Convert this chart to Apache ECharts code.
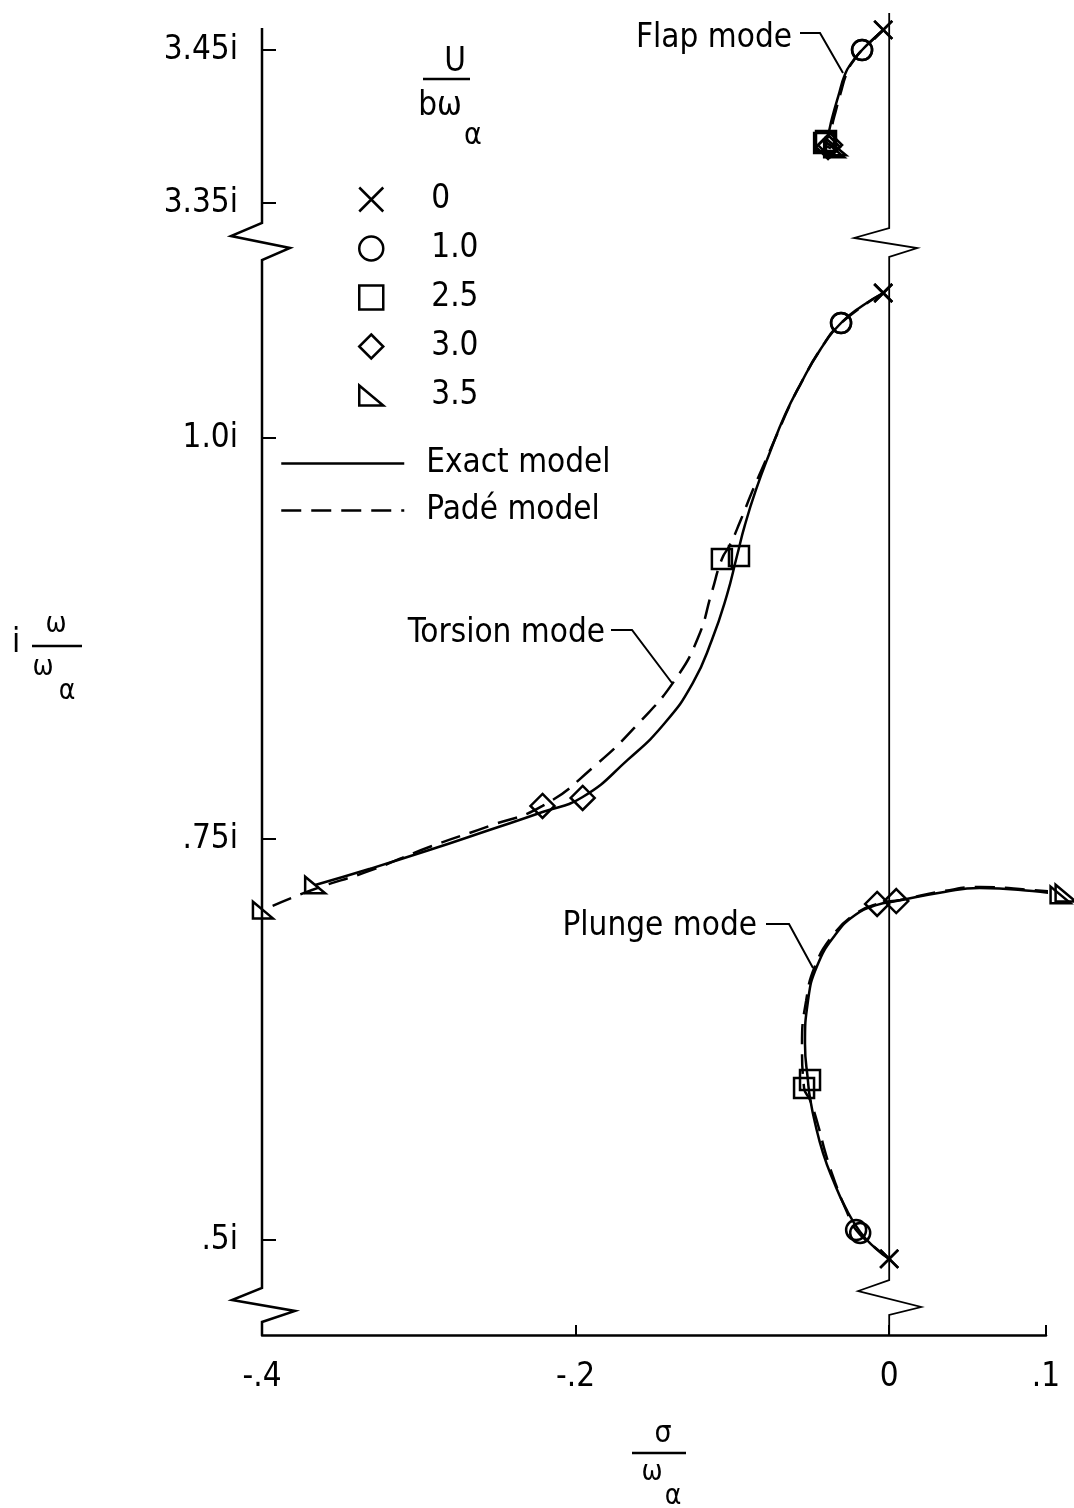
<!DOCTYPE html>
<html><head><meta charset="utf-8">
<script src="https://cdn.jsdelivr.net/npm/echarts@6/dist/echarts.min.js"></script>
<style>html,body{margin:0;padding:0;background:#fff}#c{width:1074px;height:1508px}</style>
</head><body><div id="c"></div><script>
const FONT = '"DejaVu Sans Condensed","Liberation Sans Narrow","Liberation Sans",sans-serif';

// ---- axis ticks ----
const xTickValues = [-0.4, -0.2, 0, 0.1];
const xTickLabels = ['-.4', '-.2', '0', '.1'];
const yTickValuesUpper = [3.35, 3.45];
const yTickLabelsUpper = ['3.35i', '3.45i'];
const yTickValuesLower = [0.5, 0.75, 1.0];
const yTickLabelsLower = ['.5i', '.75i', '1.0i'];
const speedLabels = ['0', '1.0', '2.5', '3.0', '3.5'];

// ---- flap mode (upper panel) ----
const flapExact = [[-0.0038,3.4631],[-0.0109,3.4565],[-0.0173,3.4500],[-0.0236,3.4422],[-0.0281,3.4343],[-0.0326,3.4193],[-0.0364,3.4056],[-0.0390,3.3944],[-0.0403,3.3905],[-0.0377,3.3879],[-0.0339,3.3866]];
const flapPade = [[-0.0038,3.4631],[-0.0173,3.4500],[-0.0224,3.4435],[-0.0268,3.4356],[-0.0313,3.4206],[-0.0351,3.4062],[-0.0383,3.3944],[-0.0415,3.3892],[-0.0390,3.3866],[-0.0351,3.3853]];
const flapExactMarks = [[-0.0038,3.4631],[-0.0173,3.4500],[-0.0403,3.3905],[-0.0377,3.3879],[-0.0339,3.3866]];
const flapPadeMarks = [[-0.0038,3.4631],[-0.0173,3.4500],[-0.0415,3.3892],[-0.0390,3.3866],[-0.0351,3.3853]];

// ---- torsion mode ----
const torsionExact = [[-0.0038,1.0904],[-0.0173,1.0823],[-0.0307,1.0717],[-0.0441,1.0549],[-0.0569,1.0330],[-0.0665,1.0143],[-0.0760,0.9913],[-0.0850,0.9676],[-0.0920,0.9458],[-0.0971,0.9264],[-0.1035,0.9021],[-0.1131,0.8741],[-0.1252,0.8473],[-0.1431,0.8223],[-0.1668,0.7993],[-0.1955,0.7762],[-0.2211,0.7668],[-0.2550,0.7556],[-0.2933,0.7431],[-0.3316,0.7313],[-0.3661,0.7213]];
const torsionPade = [[-0.0038,1.0904],[-0.0307,1.0717],[-0.0441,1.0549],[-0.0569,1.0330],[-0.0633,1.0206],[-0.0709,1.0037],[-0.0792,0.9850],[-0.0875,0.9663],[-0.0952,0.9476],[-0.1016,0.9333],[-0.1067,0.9246],[-0.1131,0.9040],[-0.1220,0.8753],[-0.1367,0.8491],[-0.1591,0.8229],[-0.1879,0.7955],[-0.2211,0.7706],[-0.2550,0.7581],[-0.2933,0.7450],[-0.3316,0.7301],[-0.3681,0.7182],[-0.3994,0.7057]];
const torsionExactMarks = [[-0.0038,1.0904],[-0.0307,1.0717],[-0.0958,0.9264],[-0.1955,0.7756],[-0.3661,0.7213]];
const torsionPadeMarks = [[-0.0038,1.0904],[-0.0307,1.0717],[-0.1067,0.9246],[-0.2211,0.7706],[-0.3994,0.7057]];

// ---- plunge mode ----
const plungeExact = [[0.0000,0.4882],[-0.0089,0.4950],[-0.0185,0.5050],[-0.0281,0.5206],[-0.0358,0.5374],[-0.0422,0.5542],[-0.0473,0.5729],[-0.0505,0.5885],[-0.0518,0.5991],[-0.0537,0.6222],[-0.0518,0.6490],[-0.0460,0.6708],[-0.0345,0.6901],[-0.0217,0.7026],[-0.0077,0.7089],[0.0045,0.7113],[0.0351,0.7170],[0.0575,0.7195],[0.0914,0.7176],[0.1093,0.7151]];
const plungePade = [[0.0000,0.4882],[-0.0102,0.4963],[-0.0211,0.5062],[-0.0275,0.5187],[-0.0339,0.5343],[-0.0403,0.5530],[-0.0454,0.5717],[-0.0505,0.5873],[-0.0543,0.5948],[-0.0556,0.6222],[-0.0530,0.6490],[-0.0473,0.6708],[-0.0358,0.6901],[-0.0217,0.7032],[-0.0077,0.7095],[0.0070,0.7120],[0.0351,0.7176],[0.0581,0.7201],[0.0914,0.7182],[0.1125,0.7163]];
const plungeExactMarks = [[0.0000,0.4882],[-0.0185,0.5044],[-0.0505,0.5997],[0.0045,0.7113],[0.1093,0.7151]];
const plungePadeMarks = [[0.0000,0.4882],[-0.0211,0.5062],[-0.0543,0.5948],[-0.0077,0.7095],[0.1125,0.7163]];

// ---- styling ----
const SYMBOLS = ['path://M0,0L10,10M10,0L0,10', 'circle', 'path://M0,0L10,0L10,10L0,10Z', 'path://M5,0L10,5L5,10L0,5Z', 'path://M0,0L0,10L12,10Z'];
const SIZES = [18, 20, 20, 24, 20];
const UPPER_MIN = 3.33562, UPPER_MAX = 3.46438;
const LOWER_MIN = 0.44077, LOWER_MAX = 1.11097;

function labelFor(values, labels) {
  return v => { for (let i = 0; i < values.length; i++) if (Math.abs(values[i] - v) < 1e-6) return labels[i]; return ''; };
}
const lblStyle = { fontFamily: FONT, fontSize: 33, color: '#000' };

function lineSeries(name, data, gi, dashed) {
  return {
    name, type: 'line', data, xAxisIndex: gi, yAxisIndex: gi, smooth: 0.5,
    symbol: 'none', showSymbol: false, clip: false, silent: true,
    lineStyle: { color: '#000', width: 2.5, type: dashed ? [20, 10] : 'solid', opacity: 1 },
    itemStyle: { color: '#000' }, z: 2
  };
}
function markSeries(i, data, gi) {
  return {
    name: speedLabels[i], type: 'scatter', data, xAxisIndex: gi, yAxisIndex: gi,
    symbol: SYMBOLS[i], symbolSize: SIZES[i], symbolKeepAspect: true, clip: false, silent: true,
    itemStyle: { color: 'rgba(0,0,0,0)', borderColor: '#000', borderWidth: 2.5, opacity: 1 }, z: 3
  };
}

const series = [
  lineSeries('Exact model', flapExact, 0, false),
  lineSeries('Padé model', flapPade, 0, true),
  lineSeries('Exact model', torsionExact, 1, false),
  lineSeries('Padé model', torsionPade, 1, true),
  lineSeries('Exact model', plungeExact, 1, false),
  lineSeries('Padé model', plungePade, 1, true)
];
for (let i = 0; i < 5; i++) {
  series.push(markSeries(i, [flapExactMarks[i], flapPadeMarks[i]], 0));
  series.push(markSeries(i, [torsionExactMarks[i], torsionPadeMarks[i], plungeExactMarks[i], plungePadeMarks[i]], 1));
}

const option = {
  animation: false,
  backgroundColor: '#fff',
  grid: [
    { left: 262, right: 28, top: 28, height: 197, containLabel: false, outerBoundsMode: 'none' },
    { left: 262, right: 28, top: 260, height: 1075, containLabel: false, outerBoundsMode: 'none' }
  ],
  xAxis: [
    { gridIndex: 0, type: 'value', min: -0.4, max: 0.1, show: false },
    { gridIndex: 1, type: 'value', min: -0.4, max: 0.1,
      axisLine: { show: true, onZero: false, lineStyle: { color: '#000', width: 2.5 } },
      axisTick: { show: true, inside: true, length: 10, customValues: xTickValues, lineStyle: { color: '#000', width: 2 } },
      axisLabel: { customValues: xTickValues, formatter: labelFor(xTickValues, xTickLabels), margin: 26, ...lblStyle },
      splitLine: { show: false } }
  ],
  yAxis: [
    { gridIndex: 0, type: 'value', min: UPPER_MIN, max: UPPER_MAX,
      axisLine: { show: false, onZero: false },
      axisTick: { show: true, inside: true, length: 14, customValues: yTickValuesUpper, lineStyle: { color: '#000', width: 2 } },
      axisLabel: { customValues: yTickValuesUpper, formatter: labelFor(yTickValuesUpper, yTickLabelsUpper), margin: 24, ...lblStyle },
      splitLine: { show: false } },
    { gridIndex: 1, type: 'value', min: LOWER_MIN, max: LOWER_MAX,
      axisLine: { show: false, onZero: false },
      axisTick: { show: true, inside: true, length: 14, customValues: yTickValuesLower, lineStyle: { color: '#000', width: 2 } },
      axisLabel: { customValues: yTickValuesLower, formatter: labelFor(yTickValuesLower, yTickLabelsLower), margin: 24, ...lblStyle },
      splitLine: { show: false } }
  ],
  legend: [
    { data: speedLabels.map((s, i) => ({ name: s, icon: SYMBOLS[i] })), orient: 'vertical',
      left: 358, top: 183, itemWidth: 24, itemHeight: 24, itemGap: 16, padding: 0, selectedMode: false,
      itemStyle: { color: 'rgba(0,0,0,0)', borderColor: '#000', borderWidth: 2.5, opacity: 1 },
      textStyle: { ...lblStyle, padding: [0, 0, 0, 43] } },
    { data: ['Exact model', 'Padé model'], orient: 'vertical',
      left: 280, top: 447, itemWidth: 123, itemHeight: 14, itemGap: 14, padding: 0, selectedMode: false,
      itemStyle: { color: 'rgba(0,0,0,0)', borderColor: 'rgba(0,0,0,0)', borderWidth: 0, opacity: 0 },
      lineStyle: { width: 2.5, color: '#000', opacity: 1 },
      textStyle: { ...lblStyle, padding: [0, 0, 0, 17] } }
  ],
  series
};

const chart = echarts.init(document.getElementById('c'), null, { renderer: 'canvas' });
chart.setOption(option);

const xL = chart.convertToPixel({ xAxisIndex: 1 }, -0.4);
const x0 = chart.convertToPixel({ xAxisIndex: 1 }, 0);
const yTop = chart.convertToPixel({ yAxisIndex: 0 }, UPPER_MAX);
const yUpBot = chart.convertToPixel({ yAxisIndex: 0 }, UPPER_MIN);
const yLoTop = chart.convertToPixel({ yAxisIndex: 1 }, LOWER_MAX);
const yBot = chart.convertToPixel({ yAxisIndex: 1 }, LOWER_MIN);

function txt(text, x, y, size, align) {
  return { type: 'text', x, y, silent: true, style: { text, fontFamily: FONT, fontSize: size || 33, fill: '#000', align: align || 'center', verticalAlign: 'middle' } };
}
function pl(points, w) {
  return { type: 'polyline', silent: true, shape: { points }, style: { stroke: '#000', lineWidth: w || 2, fill: null, lineJoin: 'miter' } };
}

const graphic = [
  // left axis with breaks
  pl([[xL, yTop], [xL, yUpBot - 2], [xL - 31, yUpBot + 11], [xL + 28, yUpBot + 23], [xL, yLoTop],
      [xL, yBot - 47], [xL - 30, yBot - 35], [xL + 33, yBot - 24], [xL, yBot - 13], [xL, yBot]], 2.5),
  // sigma = 0 line with breaks
  pl([[x0, yTop - 15], [x0, yUpBot + 3], [x0 - 35, yUpBot + 13], [x0 + 28, yUpBot + 23], [x0, yLoTop - 3],
      [x0, yBot - 55], [x0 - 31, yBot - 44], [x0 + 32, yBot - 28], [x0, yBot - 20], [x0, yBot]], 1.8),
  // legend title U / b omega_alpha
  txt('U', 455, 62, 33),
  pl([[423, 79], [470, 79]], 2.5),
  txt('bω', 440, 106, 33),
  txt('α', 473, 136, 30),
  // mode labels
  txt('Flap mode', 792, 38, 33, 'right'),
  pl([[800, 33], [820, 33], [843, 73]], 2),
  txt('Torsion mode', 605, 633, 33, 'right'),
  pl([[611, 630], [632, 630], [672, 683]], 2),
  txt('Plunge mode', 757, 926, 33, 'right'),
  pl([[766, 924], [789, 924], [813, 968]], 2),
  // y axis title  i omega/omega_alpha
  txt('i', 16, 643, 33),
  txt('ω', 56, 625, 28),
  pl([[32, 646], [82, 646]], 2.5),
  txt('ω', 43, 668, 28),
  txt('α', 67, 692, 28),
  // x axis title sigma/omega_alpha
  txt('σ', 663, 1434, 30),
  pl([[632, 1453], [686, 1453]], 2.5),
  txt('ω', 652, 1473, 28),
  txt('α', 673, 1497, 28)
];
chart.setOption({ graphic });
</script></body></html>
